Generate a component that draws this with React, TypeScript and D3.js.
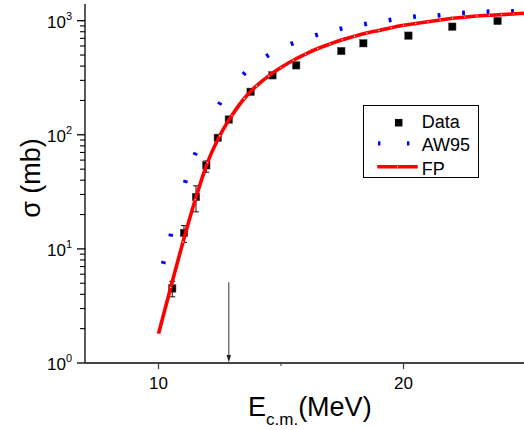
import React from 'react';
import * as d3 from 'd3';

// measured cross sections
const dataE = [10.56, 11.04, 11.53, 11.95, 12.42, 12.87, 13.76, 14.65, 15.62, 17.46, 18.36, 20.2, 21.99, 23.84];
const dataSigma = [4.5, 13.8, 28.5, 54, 94, 136, 238, 332, 406, 542, 634, 739, 886, 994];
const errLow = [3.8, 11.4, 21.1, 47, null, null, null, null, null, null, null, null, null, null];
const errHigh = [5.2, 16.0, 35.7, 59, null, null, null, null, null, null, null, null, null, null];

// AW95 dotted curve (dot positions)
const awE = [10.2, 10.5, 11.1, 11.5, 12.5, 13.5, 14.45, 15.45, 16.45, 17.45, 18.45, 19.45, 20.45, 21.45, 22.45, 23.45, 24.45];
const awSigma = [7.6, 13.2, 39, 68, 188, 343, 493, 629, 749, 851, 935, 1014, 1084, 1115, 1169, 1200, 1209];

// FP calculation
const fpE = [10, 10.5, 11, 11.5, 12, 12.5, 13, 13.5, 14, 14.5, 15, 15.5, 16, 16.5, 17, 17.5, 18, 18.5, 19, 19.5, 20, 20.5, 21, 21.5, 22, 22.5, 23, 23.5, 24, 24.5, 25];
const fpSigma = [1.8, 4.6, 11.5, 27, 57, 98, 148, 208, 268, 328, 388, 450, 510, 570, 625, 680, 730, 780, 822, 868, 910, 945, 980, 1015, 1050, 1075, 1100, 1115, 1130, 1148, 1165];

// barrier arrow
const arrowE = 12.87;
const arrowTop = 5.1;

const xTicks = [10, 20];
const xMinor = [15];
const yMajor = [1, 10, 100, 1000];
const yExp = ['0', '1', '2', '3'];
const legendLabels = ['Data', 'AW95', 'FP'];

const W = 524;
const H = 430;
const font = '"Liberation Sans", Arial, sans-serif';

export default function App() {
  const x = d3.scaleLinear().domain([7, 25]).range([85, 526]);
  const y = d3.scaleLog().domain([1, 1400]).range([363, 4]);

  const yMinor: number[] = [];
  [1, 10, 100].forEach(d => {
    for (let k = 2; k <= 9; k++) yMinor.push(d * k);
  });

  const fpPts = fpE.map((e, i) => [x(e), y(fpSigma[i])] as [number, number]);
  const fpLine = d3.line().curve(d3.curveMonotoneX)(fpPts) || '';

  const awPts = awE.map((e, i) => [x(e), y(awSigma[i])]);
  const awDashes = awPts.map((p, i) => {
    const a = awPts[Math.max(0, i - 1)];
    const b = awPts[Math.min(awPts.length - 1, i + 1)];
    const dx = b[0] - a[0];
    const dy = b[1] - a[1];
    const len = Math.sqrt(dx * dx + dy * dy) || 1;
    const h = 1.4;
    return { x1: p[0] - (dx / len) * h, y1: p[1] - (dy / len) * h, x2: p[0] + (dx / len) * h, y2: p[1] + (dy / len) * h };
  });

  const axisY = y(1);
  const lx = 363.5;
  const ly = 105.5;

  return (
    <svg width={W} height={H} style={{ position: 'absolute', left: 0, top: 0, background: '#fff' }} fontFamily={font}>
      <defs>
        <clipPath id="plot">
          <rect x={85} y={0} width={W - 85} height={axisY} />
        </clipPath>
      </defs>

      {/* y axis */}
      <line x1={85} x2={85} y1={4} y2={axisY} stroke="#000" strokeWidth={1.3} />
      {yMajor.map(v => (
        <line key={'ym' + v} x1={77} x2={85} y1={y(v)} y2={y(v)} stroke="#000" strokeWidth={1.3} />
      ))}
      {yMinor.map(v => (
        <line key={'yn' + v} x1={80} x2={85} y1={y(v)} y2={y(v)} stroke="#000" strokeWidth={1.1} />
      ))}
      {yMajor.map((v, i) => (
        <text key={'yl' + v} x={72} y={y(v) + 7} textAnchor="end" fontSize={17} fill="#000">
          10<tspan dy={-8} fontSize={11}>{yExp[i]}</tspan>
        </text>
      ))}

      {/* x axis */}
      <line x1={85} x2={W} y1={axisY} y2={axisY} stroke="#444" strokeWidth={1.8} />
      {xTicks.map(v => (
        <line key={'xm' + v} x1={x(v)} x2={x(v)} y1={axisY} y2={axisY + 6} stroke="#444" strokeWidth={1.3} />
      ))}
      {xMinor.map(v => (
        <line key={'xn' + v} x1={x(v)} x2={x(v)} y1={axisY} y2={axisY + 3} stroke="#444" strokeWidth={1.1} />
      ))}
      {xTicks.map(v => (
        <text key={'xl' + v} x={x(v)} y={389} textAnchor="middle" fontSize={17} fill="#000">{v}</text>
      ))}

      {/* axis titles */}
      <text x={248} y={416} fontSize={27} fill="#000">
        E<tspan dy={9} fontSize={17}>c.m.</tspan><tspan dy={-9}>(MeV)</tspan>
      </text>
      <text transform="translate(40,178) rotate(-90)" textAnchor="middle" fontSize={27} fill="#000">σ (mb)</text>

      <g clipPath="url(#plot)">
        {/* arrow */}
        <line x1={x(arrowE)} x2={x(arrowE)} y1={y(arrowTop)} y2={axisY - 6} stroke="#333" strokeWidth={1} />
        <path d={`M${x(arrowE) - 2.2},${axisY - 8} L${x(arrowE) + 2.2},${axisY - 8} L${x(arrowE)},${axisY - 0.5} Z`} fill="#222" />

        {/* AW95 */}
        {awDashes.map((d, i) => (
          <line key={'aw' + i} x1={d.x1} y1={d.y1} x2={d.x2} y2={d.y2} stroke="#0000ff" strokeWidth={4.5} />
        ))}

        {/* error bars */}
        {dataE.map((e, i) => {
          if (errLow[i] == null || errHigh[i] == null) return null;
          const cx = x(e);
          const y1 = y(errHigh[i] as number);
          const y2 = y(errLow[i] as number);
          return (
            <g key={'eb' + i} stroke="#111" strokeWidth={1}>
              <line x1={cx} x2={cx} y1={y1} y2={y2} />
              <line x1={cx - 3} x2={cx + 3} y1={y1} y2={y1} />
              <line x1={cx - 3} x2={cx + 3} y1={y2} y2={y2} />
            </g>
          );
        })}

        {/* Data */}
        {dataE.map((e, i) => (
          <rect key={'d' + i} x={x(e) - 3.75} y={y(dataSigma[i]) - 3.75} width={7.5} height={7.5} fill="#000" stroke="#555" strokeWidth={0.5} />
        ))}

        {/* FP */}
        <path d={fpLine} fill="none" stroke="#ff0000" strokeWidth={3.6} />
        {fpPts.map((p, i) => (
          <circle key={'fp' + i} cx={p[0]} cy={p[1]} r={0.7} fill="#fff" />
        ))}
      </g>

      {/* legend */}
      <rect x={lx} y={ly} width={115} height={72} fill="#fff" stroke="#000" strokeWidth={1} />
      <rect x={398.7 - 3.75} y={122.7 - 3.75} width={7.5} height={7.5} fill="#000" />
      <rect x={378} y={141.3} width={2.4} height={4.2} fill="#0000ff" />
      <rect x={407} y={141.3} width={2.4} height={4.2} fill="#0000ff" />
      <line x1={377.3} x2={417.7} y1={166.7} y2={166.7} stroke="#ff0000" strokeWidth={3.6} />
      <circle cx={397.5} cy={166.7} r={0.7} fill="#fff" />
      {legendLabels.map((l, i) => (
        <text key={l} x={421.7} y={128 + i * 23.3} fontSize={18} fill="#000">{l}</text>
      ))}
    </svg>
  );
}
